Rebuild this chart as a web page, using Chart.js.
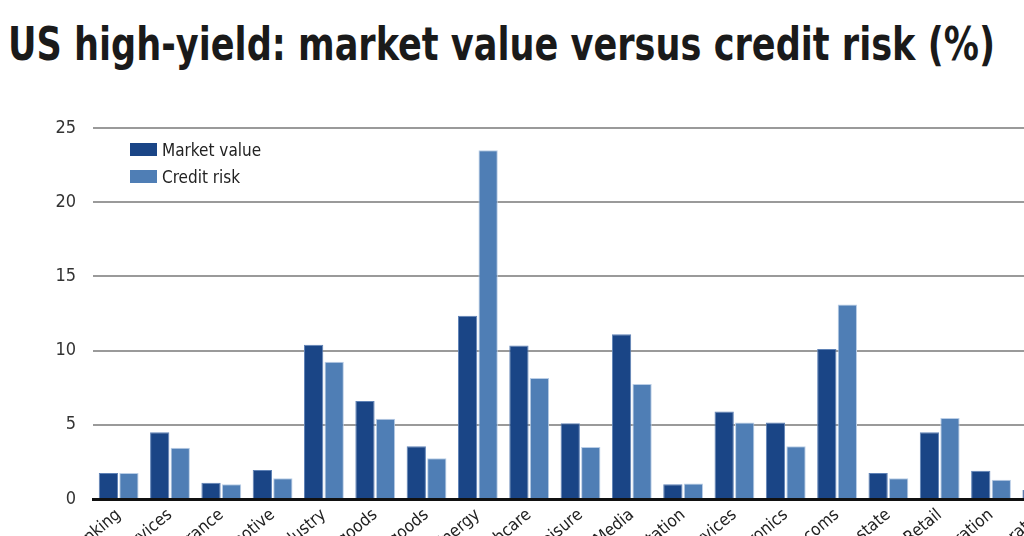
<!DOCTYPE html>
<html>
<head>
<meta charset="utf-8">
<script src="https://cdn.jsdelivr.net/npm/chart.js@4.4.1/dist/chart.umd.min.js"></script>
<style>
  html, body { margin: 0; padding: 0; background: #fff; overflow: hidden; width: 1024px; height: 536px; }
  h1 {
    position: absolute; left: 8px; top: 17px; margin: 0;
    font-family: "Liberation Sans Narrow", "DejaVu Sans Condensed", "Roboto Condensed", sans-serif;
    font-weight: bold; font-size: 46px; color: #1a1a1a; white-space: nowrap;
    transform-origin: left top;
  }
  #wrap { position: absolute; left: 0; top: 0; }
</style>
</head>
<body>
<h1 id="title">US high-yield: market value versus credit risk (%)</h1>
<div id="wrap"><canvas id="chart" width="1068" height="640"></canvas></div>
<script>
const categories = [
  'Banking', 'Financial services', 'Insurance', 'Automotive', 'Basic industry',
  'Capital goods', 'Consumer goods', 'Energy', 'Healthcare', 'Leisure', 'Media',
  'Transportation', 'Services', 'Technology & electronics', 'Telecoms',
  'Real estate', 'Retail', 'Utility generation', 'Utility integrated'
]
const marketValue = [1.75, 4.5, 1.1, 1.95, 10.4, 6.6, 3.55, 12.35, 10.35, 5.1, 11.1, 1.0, 5.9, 5.15, 10.1, 1.75, 4.5, 1.9, 0.6]
const creditRisk = [1.75, 3.45, 1.0, 1.4, 9.25, 5.4, 2.75, 23.5, 8.15, 3.5, 7.75, 1.05, 5.15, 3.55, 13.1, 1.4, 5.45, 1.3, 0.4]
const yTicks = [0, 5, 10, 15, 20, 25]

const FONT = '"Liberation Sans Narrow", "DejaVu Sans Condensed", "Roboto Condensed", sans-serif'
const DARK = '#1a4586'
const LIGHT = '#4f7eb5'

// stretch the title to the width used in the reference
const title = document.getElementById('title')
const tw = title.getBoundingClientRect().width
if (tw > 0) title.style.transform = 'scaleX(' + (987 / tw) + ')'

// vertical legend drawn inside the plot area
const sideLegend = {
  id: 'sideLegend',
  afterDraw(chart) {
    const ctx = chart.ctx
    ctx.save()
    ctx.font = '17px ' + FONT
    ctx.textBaseline = 'middle'
    chart.data.datasets.forEach((ds, i) => {
      const y = 143 + i * 27
      ctx.fillStyle = ds.backgroundColor
      ctx.fillRect(130, y, 27, 13)
      ctx.fillStyle = '#222'
      ctx.fillText(ds.label, 162, y + 9)
    })
    ctx.restore()
  }
}

new Chart(document.getElementById('chart'), {
  type: 'bar',
  data: {
    labels: categories,
    datasets: [
      { label: 'Market value', data: marketValue, backgroundColor: DARK, borderColor: '#5f82b6', borderWidth: 1 },
      { label: 'Credit risk', data: creditRisk, backgroundColor: LIGHT, borderColor: '#b9cde6', borderWidth: 1 }
    ]
  },
  options: {
    responsive: false,
    animation: false,
    categoryPercentage: 0.8,
    barPercentage: 0.94,
    layout: { padding: { top: 128, left: 0, right: 0, bottom: 0 } },
    plugins: {
      legend: { display: false },
      title: { display: false },
      tooltip: { enabled: false }
    },
    scales: {
      x: {
        grid: { display: false, drawTicks: false },
        border: { display: true, color: '#111', width: 3 },
        ticks: {
          color: '#222',
          font: { family: FONT, size: 17 },
          minRotation: 40,
          maxRotation: 40,
          autoSkip: false,
          padding: 6
        },
        afterFit(scale) { scale.height = 141 }
      },
      y: {
        min: 0,
        max: 25,
        afterBuildTicks(scale) { scale.ticks = yTicks.map(v => ({ value: v })) },
        grid: {
          color: ctx => ctx.tick.value === 0 ? 'rgba(0,0,0,0)' : '#9a9a9a',
          lineWidth: 2,
          drawTicks: false
        },
        border: { display: false },
        ticks: {
          color: '#333',
          font: { family: FONT, size: 18 },
          padding: 17
        },
        afterFit(scale) { scale.width = 93 }
      }
    }
  },
  plugins: [sideLegend]
})
</script>
</body>
</html>
